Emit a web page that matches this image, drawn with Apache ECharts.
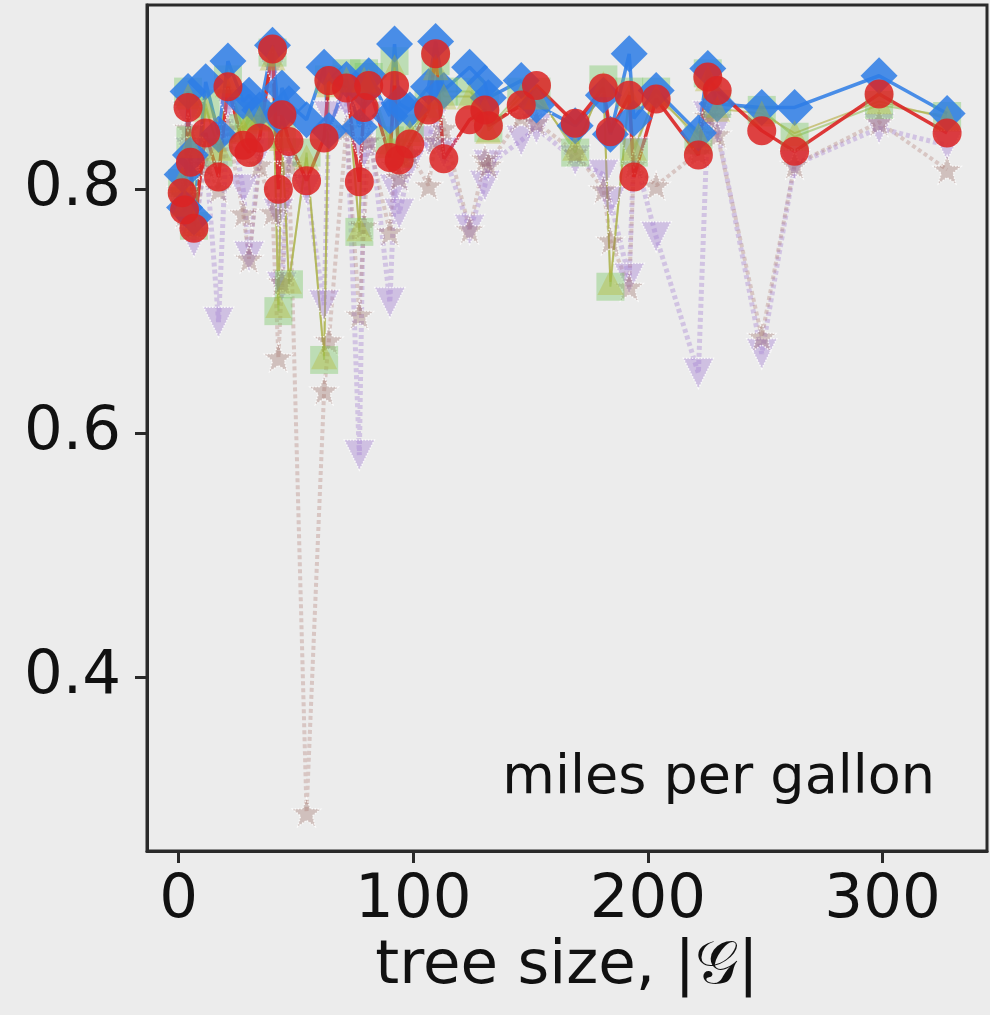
<!DOCTYPE html>
<html>
<head>
<meta charset="utf-8">
<script src="https://cdn.jsdelivr.net/npm/echarts@6/dist/echarts.min.js"></script>
<style>
  html, body { margin: 0; padding: 0; background: #ececec; }
  #chart { width: 990px; height: 1015px; }
</style>
</head>
<body>
<div id="chart"></div>
<script>
// tree sizes |G| at which each model was evaluated
const treeSize = [1.5, 2.5, 4, 5, 6.5, 11.5, 17, 21, 27.5, 30, 34.5, 40, 42.5, 44, 47, 54.5,
  62, 64, 71.5, 77, 79, 81, 90, 92, 94, 98.5, 106.5, 109.5, 113, 124, 130.5, 132, 146,
  152.5, 169, 181, 184, 192, 194, 203.5, 221.5, 225.5, 229.5, 248.5, 262.5, 298.5, 327.5];

// scores per method (diamond / square / up-triangle / down-triangle / star / circle)
const diamondScores = [0.812, 0.785, 0.880, 0.828, 0.777, 0.888, 0.845, 0.905, 0.872, 0.877,
  0.865, 0.918, 0.860, 0.883, 0.870, 0.857, 0.900, 0.848, 0.890, 0.851, 0.880, 0.893, 0.860,
  0.919, 0.870, 0.865, 0.884, 0.921, 0.881, 0.900, 0.887, 0.875, 0.889, 0.869, 0.852, 0.877,
  0.845, 0.911, 0.858, 0.881, 0.846, 0.899, 0.870, 0.867, 0.867, 0.893, 0.862];
const squareScores = [0.805, 0.790, 0.880, 0.840, 0.770, 0.870, 0.830, 0.890, 0.850, 0.860,
  0.860, 0.912, 0.700, 0.845, 0.722, 0.830, 0.660, 0.890, 0.895, 0.765, 0.895, 0.892, 0.840,
  0.905, 0.830, 0.850, 0.870, 0.905, 0.880, 0.880, 0.870, 0.850, 0.880, 0.880, 0.830, 0.890,
  0.720, 0.880, 0.830, 0.880, 0.840, 0.895, 0.870, 0.865, 0.843, 0.869, 0.860];
const upTriScores = [0.808, 0.788, 0.876, 0.836, 0.772, 0.866, 0.834, 0.886, 0.848, 0.856,
  0.858, 0.908, 0.705, 0.842, 0.725, 0.826, 0.663, 0.886, 0.890, 0.768, 0.890, 0.888, 0.836,
  0.900, 0.828, 0.846, 0.866, 0.900, 0.876, 0.876, 0.866, 0.848, 0.876, 0.876, 0.834, 0.886,
  0.724, 0.876, 0.834, 0.876, 0.844, 0.891, 0.866, 0.862, 0.846, 0.872, 0.858];
const downTriScores = [0.790, 0.775, 0.860, 0.830, 0.757, 0.830, 0.691, 0.870, 0.800, 0.745,
  0.830, 0.900, 0.780, 0.720, 0.830, 0.800, 0.705, 0.860, 0.870, 0.582, 0.830, 0.860, 0.707,
  0.800, 0.780, 0.820, 0.840, 0.860, 0.830, 0.767, 0.803, 0.820, 0.840, 0.850, 0.824, 0.812,
  0.790, 0.727, 0.830, 0.761, 0.649, 0.860, 0.850, 0.665, 0.820, 0.850, 0.836];
const starScores = [0.795, 0.780, 0.850, 0.820, 0.770, 0.820, 0.800, 0.850, 0.780, 0.743,
  0.820, 0.781, 0.662, 0.724, 0.820, 0.289, 0.635, 0.676, 0.850, 0.697, 0.770, 0.840, 0.765,
  0.820, 0.810, 0.830, 0.803, 0.840, 0.850, 0.767, 0.825, 0.820, 0.860, 0.855, 0.830, 0.800,
  0.758, 0.720, 0.820, 0.803, 0.830, 0.860, 0.845, 0.679, 0.820, 0.855, 0.816];
const circleScores = [0.797, 0.783, 0.867, 0.822, 0.768, 0.846, 0.810, 0.884, 0.836, 0.830,
  0.842, 0.915, 0.800, 0.861, 0.839, 0.807, 0.842, 0.889, 0.883, 0.806, 0.867, 0.885, 0.826,
  0.885, 0.824, 0.837, 0.865, 0.911, 0.825, 0.857, 0.865, 0.852, 0.869, 0.885, 0.854, 0.883,
  0.847, 0.877, 0.810, 0.874, 0.828, 0.892, 0.881, 0.848, 0.831, 0.878, 0.846];

const xTicks = [0, 100, 200, 300];
const yTicks = [0.4, 0.6, 0.8];
const panelLabel = 'miles per gallon';

const STAR = 'path://M0,-10 L2.6,-3.4 L9.5,-3.1 L4.1,1.3 L5.9,8.1 L0,4.2 L-5.9,8.1 L-4.1,1.3 L-9.5,-3.1 L-2.6,-3.4 Z';

function pairs(ys) { return treeSize.map((x, i) => [x, ys[i]]); }

const chart = echarts.init(document.getElementById('chart'), null, { renderer: 'canvas' });
const font = '"DejaVu Sans", sans-serif';

chart.setOption({
  backgroundColor: '#ececec',
  animation: false,
  title: {
    text: panelLabel,
    right: 50, top: 747,
    textStyle: { fontFamily: font, fontSize: 54, fontWeight: 'normal', color: '#111' }
  },
  grid: {
    left: 147, right: 3, top: 5, bottom: 164,
    show: true, borderColor: '#2a2a2a', borderWidth: 3, backgroundColor: 'transparent'
  },
  xAxis: {
    type: 'value', min: -13.5, max: 344.5,
    name: 'tree size, |\uD835\uDCA2|', nameLocation: 'middle', nameGap: 86,
    nameTextStyle: { fontFamily: font, fontSize: 61, color: '#111' },
    splitLine: { show: false },
    axisLine: { show: true, onZero: false, lineStyle: { color: '#2a2a2a', width: 3 } },
    axisTick: { show: true, length: 12, lineStyle: { color: '#2a2a2a', width: 3 }, customValues: xTicks },
    axisLabel: { margin: 20, fontFamily: font, fontSize: 61, color: '#111', customValues: xTicks }
  },
  yAxis: {
    type: 'value', min: 0.2574, max: 0.951,
    splitLine: { show: false },
    axisLine: { show: true, onZero: false, lineStyle: { color: '#2a2a2a', width: 3 } },
    axisTick: { show: true, length: 12, lineStyle: { color: '#2a2a2a', width: 3 }, customValues: yTicks },
    axisLabel: { margin: 26, fontFamily: font, fontSize: 61, color: '#111', customValues: yTicks,
      formatter: v => v.toFixed(1) }
  },
  series: [
    {
      name: 'down', type: 'line', data: pairs(downTriScores),
      symbol: 'triangle', symbolRotate: 180, symbolSize: 30,
      itemStyle: { color: 'rgba(160,120,210,0.38)', borderColor: 'rgba(255,255,255,0.8)', borderWidth: 1.5, borderType: 'dotted' },
      lineStyle: { color: 'rgba(160,120,210,0.35)', width: 5, type: [4, 3] }
    },
    {
      name: 'star', type: 'line', data: pairs(starScores),
      symbol: STAR, symbolSize: 28,
      itemStyle: { color: 'rgba(150,100,90,0.32)', borderColor: 'rgba(255,255,255,0.8)', borderWidth: 1.5, borderType: 'dotted' },
      lineStyle: { color: 'rgba(170,110,100,0.3)', width: 4, type: [4, 3] }
    },
    {
      name: 'square', type: 'line', data: pairs(squareScores),
      symbol: 'rect', symbolSize: 28,
      itemStyle: { color: 'rgba(120,200,100,0.4)' },
      lineStyle: { color: 'rgba(150,190,90,0.6)', width: 2 }
    },
    {
      name: 'diamond', type: 'line', data: pairs(diamondScores),
      symbol: 'diamond', symbolSize: 37,
      itemStyle: { color: 'rgba(45,125,230,0.85)' },
      lineStyle: { color: 'rgba(45,125,230,0.85)', width: 3.5 }
    },
    {
      name: 'up', type: 'line', data: pairs(upTriScores),
      symbol: 'triangle', symbolSize: 26,
      itemStyle: { color: 'rgba(180,180,40,0.35)' },
      lineStyle: { color: 'rgba(180,170,60,0.6)', width: 2 }
    },
    {
      name: 'circle', type: 'line', data: pairs(circleScores),
      symbol: 'circle', symbolSize: 29,
      itemStyle: { color: 'rgba(220,35,35,0.85)' },
      lineStyle: { color: 'rgba(220,35,35,0.9)', width: 3.5 }
    }
  ]
});
</script>
</body>
</html>
